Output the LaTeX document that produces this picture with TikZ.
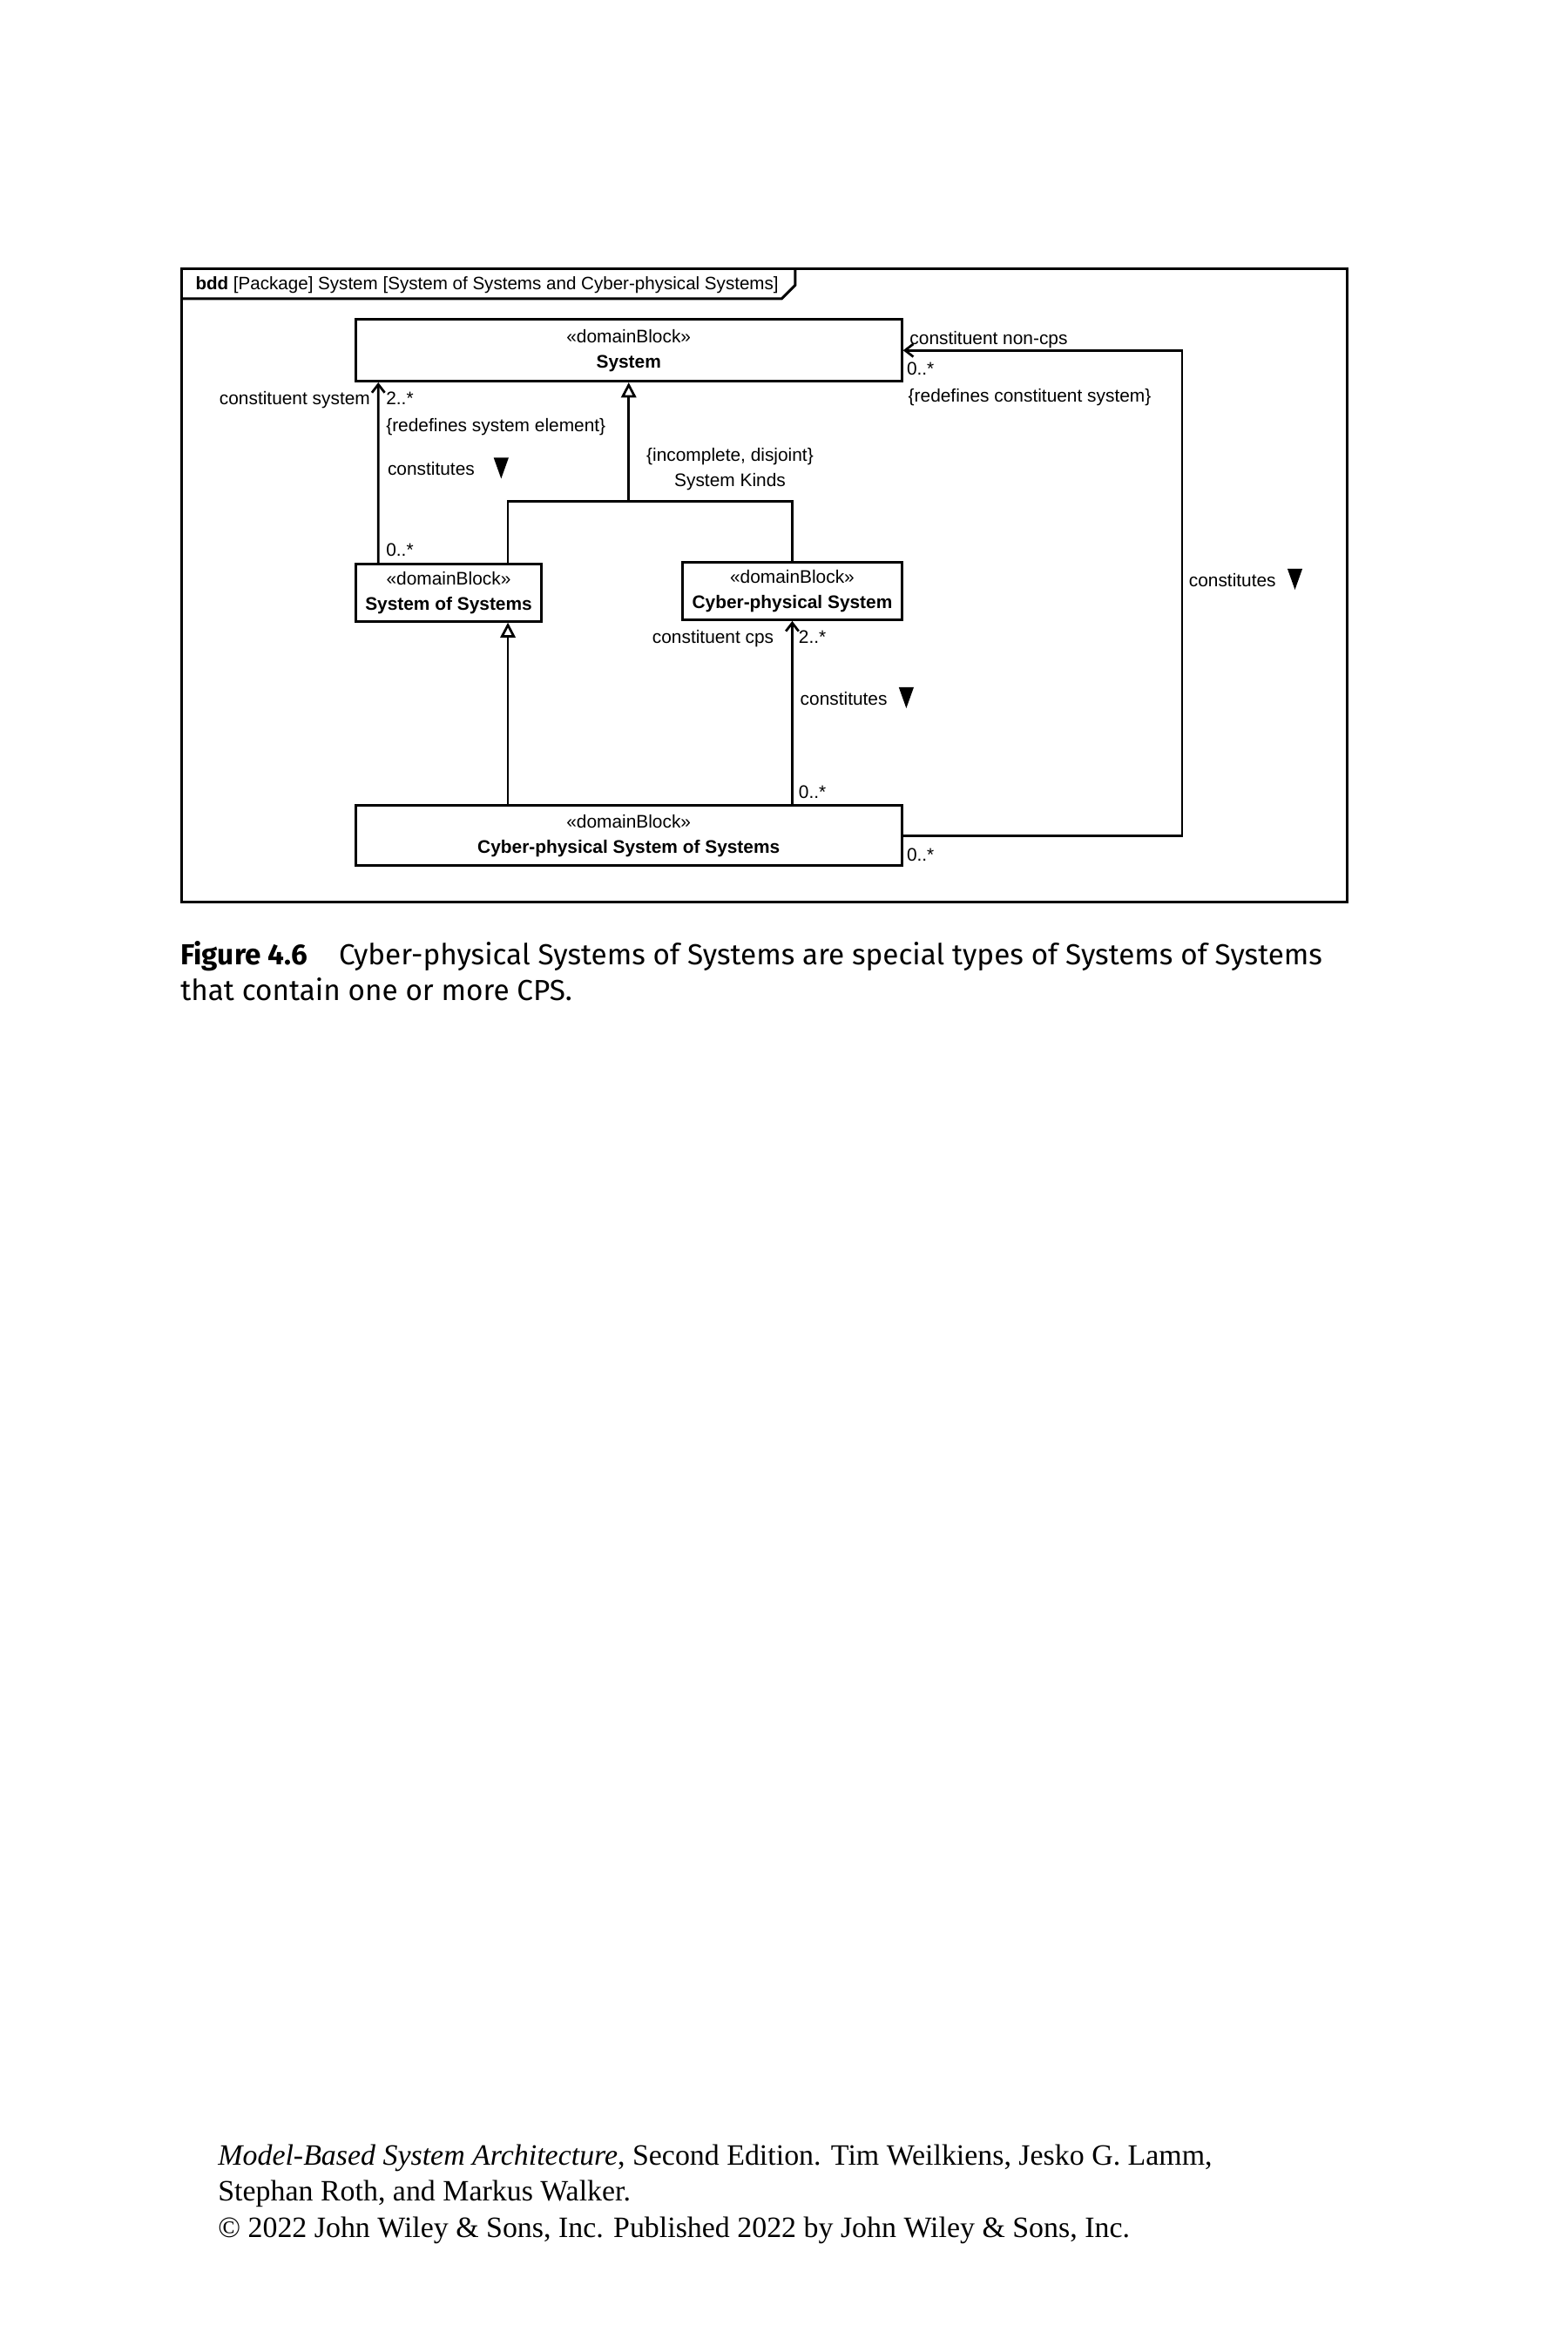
\documentclass[tikz,border=0pt]{standalone}
\usepackage{fontspec}
\setmainfont{Liberation Serif}
\newfontfamily\diagfont{Liberation Sans}
\newfontfamily\capfont{Fira Sans}
\usetikzlibrary{arrows.meta}
\newcommand{\drawblock}{\node[draw,rectangle,line width=1pt,align=center,inner sep=0,font=\diagfont\fontsize{6.9}{9.6}\selectfont]}
\newcommand{\drawlabel}{\node[inner sep=0,text height=1.6ex,text depth=0.4ex,font=\diagfont\fontsize{6.9}{8}\selectfont]}
\newcommand{\drawline}{\node[inner sep=0,anchor=base west]}
\newcommand{\domblock}[1]{«domainBlock»\\\textbf{#1}}

\begin{document}
\begin{tikzpicture}[
  assoc/.style={line width=0.9pt,-{Straight Barb[length=1.1mm,width=1.7mm]}},
  gen/.style={line width=0.9pt,-{Triangle[open,fill=white,length=2mm,width=2mm]}},
  plain/.style={line width=0.9pt},
  dirmark/.pic={\fill (-0.1,0.14) -- (0.1,0.14) -- (0,-0.14) -- cycle;}
]
\useasboundingbox (0,0) rectangle (20.9,-31.35);
%frame with its name tab
\draw[line width=1pt] (2.42,-3.58) rectangle (17.96,-12.02);
\draw[line width=1pt] (2.42,-3.98) -- (10.42,-3.98) -- (10.60,-3.80) -- (10.60,-3.58);
\drawlabel[anchor=west,font=\diagfont\fontsize{6.8}{8}\selectfont] (title) at (2.60,-3.76) {\textbf{bdd} [Package] System [System of Systems and Cyber-physical Systems]};

%blocks
\drawblock[minimum width=7.28cm,minimum height=0.82cm] (sys) at (8.38,-4.67) {\domblock{System}};
\drawblock[minimum width=2.48cm,minimum height=0.76cm] (sos) at (5.98,-7.90) {\domblock{System of Systems}};
\drawblock[minimum width=2.92cm,minimum height=0.76cm] (cps) at (10.56,-7.88) {\domblock{Cyber-physical System}};
\drawblock[minimum width=7.28cm,minimum height=0.80cm] (cpsos) at (8.38,-11.14) {\domblock{Cyber-physical System of Systems}};

%generalization set
\coordinate (kinds) at (8.38,-6.68);
\coordinate (sosgen) at ([xshift=0.79cm]sos.south);
\draw[plain] ([xshift=0.79cm]sos.north) |- (kinds) -| (cps.north);
\draw[gen] (kinds) -- (sys.south);
\draw[gen] (cpsos.north -| sosgen) -- (sosgen);
\drawlabel[align=center,text height=,text depth=,font=\diagfont\fontsize{6.9}{9.6}\selectfont] (kindslbl) at (9.73,-6.25) {\{incomplete, disjoint\}\\System Kinds};

%compositions
\draw[assoc] ([xshift=0.32cm]sos.north west) -- ([xshift=0.32cm]sys.south west);
\draw[assoc] (cpsos.north -| cps.south) -- (cps.south);
\draw[assoc] (cpsos.east) -- ++(3.72,0) |- (sys.east);

\drawlabel[anchor=east] (role1) at (4.94,-5.30) {constituent system};
\drawlabel[anchor=west] (mult1) at (5.14,-5.30) {2..*};
\drawlabel[anchor=west] (redef1) at (5.14,-5.66) {\{redefines system element\}};
\drawlabel[anchor=west] (dir1) at (5.16,-6.24) {constitutes};
\pic at (6.68,-6.24) {dirmark};
\drawlabel[anchor=west] (mult2) at (5.14,-7.32) {0..*};

\drawlabel[anchor=east] (role2) at (10.32,-8.48) {constituent cps};
\drawlabel[anchor=west] (mult3) at (10.64,-8.48) {2..*};
\drawlabel[anchor=west] (dir2) at (10.66,-9.30) {constitutes};
\pic at (12.08,-9.30) {dirmark};
\drawlabel[anchor=west] (mult4) at (10.64,-10.54) {0..*};

\drawlabel[anchor=west] (role3) at (12.12,-4.50) {constituent non-cps};
\drawlabel[anchor=west] (mult5) at (12.08,-4.90) {0..*};
\drawlabel[anchor=west] (redef3) at (12.10,-5.26) {\{redefines constituent system\}};
\drawlabel[anchor=west] (dir3) at (15.84,-7.72) {constitutes};
\pic at (17.26,-7.72) {dirmark};
\drawlabel[anchor=west] (mult6) at (12.08,-11.38) {0..*};

%caption and footer
\drawline[font=\capfont\fontsize{11}{13.7}\selectfont] (cap1) at (2.40,-12.86) {\textbf{Figure 4.6}\hspace{0.42cm}Cyber-physical Systems of Systems are special types of Systems of Systems};
\drawline[font=\capfont\fontsize{11}{13.7}\selectfont] (cap2) at (2.40,-13.34) {that contain one or more CPS.};
\drawline[font=\fontsize{11.2}{13.7}\selectfont] (foot1) at (2.90,-28.86) {\textit{Model-Based System Architecture}, Second Edition. Tim Weilkiens, Jesko G. Lamm,};
\drawline[font=\fontsize{11.2}{13.7}\selectfont] (foot2) at (2.90,-29.34) {Stephan Roth, and Markus Walker.};
\drawline[font=\fontsize{11.2}{13.7}\selectfont] (foot3) at (2.90,-29.82) {© 2022 John Wiley \& Sons, Inc. Published 2022 by John Wiley \& Sons, Inc.};
\end{tikzpicture}
\end{document}
